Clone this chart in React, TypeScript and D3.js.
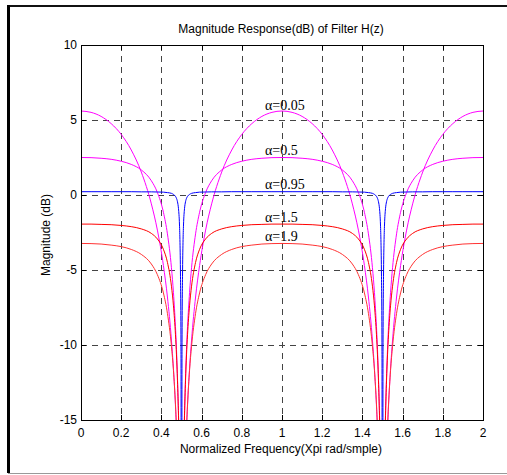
import React from "react";
import * as d3 from "d3";

// Normalized frequency (x pi rad/sample)
const freq = [
  0, 0.05, 0.1, 0.15, 0.2, 0.25, 0.3, 0.35, 0.38, 0.41, 0.43, 0.45, 0.46, 0.47, 0.475, 0.48, 0.485, 0.49, 0.4925, 0.495, 0.4975, 0.5,
  0.5025, 0.505, 0.5075, 0.51, 0.515, 0.52, 0.525, 0.53, 0.54, 0.55, 0.57, 0.59, 0.62, 0.65, 0.7, 0.75, 0.8, 0.85, 0.9, 0.95, 1.0,
  1.05, 1.1, 1.15, 1.2, 1.25, 1.3, 1.35, 1.38, 1.41, 1.43, 1.45, 1.46, 1.47, 1.475, 1.48, 1.485, 1.49, 1.4925, 1.495, 1.4975, 1.5,
  1.5025, 1.505, 1.5075, 1.51, 1.515, 1.52, 1.525, 1.53, 1.54, 1.55, 1.57, 1.59, 1.62, 1.65, 1.7, 1.75, 1.8, 1.85, 1.9, 1.95, 2.0,
];

// Magnitude (dB) for each alpha
const magA005 = [
  5.60, 5.51, 5.24, 4.76, 4.04, 3.00, 1.53, -0.59, -2.34, -4.70, -6.80, -9.67, -11.59, -14.07, -15.65, -17.58, -20.07, -23.59, -26.09, -29.61, -35.63, -60,
  -35.63, -29.61, -26.09, -23.59, -20.07, -17.58, -15.65, -14.07, -11.59, -9.67, -6.80, -4.70, -2.34, -0.59, 1.53, 3.00, 4.04, 4.76, 5.24, 5.51, 5.60,
  5.51, 5.24, 4.76, 4.04, 3.00, 1.53, -0.59, -2.34, -4.70, -6.80, -9.67, -11.59, -14.07, -15.65, -17.58, -20.07, -23.59, -26.09, -29.61, -35.63, -60,
  -35.63, -29.61, -26.09, -23.59, -20.07, -17.58, -15.65, -14.07, -11.59, -9.67, -6.80, -4.70, -2.34, -0.59, 1.53, 3.00, 4.04, 4.76, 5.24, 5.51, 5.60,
];
const magA05 = [
  2.50, 2.49, 2.45, 2.38, 2.25, 2.04, 1.67, 0.95, 0.17, -1.15, -2.59, -4.85, -6.51, -8.78, -10.27, -12.14, -14.57, -18.05, -20.53, -24.05, -30.06, -60,
  -30.06, -24.05, -20.53, -18.05, -14.57, -12.14, -10.27, -8.78, -6.51, -4.85, -2.59, -1.15, 0.17, 0.95, 1.67, 2.04, 2.25, 2.38, 2.45, 2.49, 2.50,
  2.49, 2.45, 2.38, 2.25, 2.04, 1.67, 0.95, 0.17, -1.15, -2.59, -4.85, -6.51, -8.78, -10.27, -12.14, -14.57, -18.05, -20.53, -24.05, -30.06, -60,
  -30.06, -24.05, -20.53, -18.05, -14.57, -12.14, -10.27, -8.78, -6.51, -4.85, -2.59, -1.15, 0.17, 0.95, 1.67, 2.04, 2.25, 2.38, 2.45, 2.49, 2.50,
];
const magA095 = [
  0.22, 0.22, 0.22, 0.22, 0.22, 0.22, 0.21, 0.21, 0.20, 0.19, 0.16, 0.11, 0.04, -0.09, -0.22, -0.45, -0.91, -2.00, -3.17, -5.42, -10.45, -60,
  -10.45, -5.42, -3.17, -2.00, -0.91, -0.45, -0.22, -0.09, 0.04, 0.11, 0.16, 0.19, 0.20, 0.21, 0.21, 0.22, 0.22, 0.22, 0.22, 0.22, 0.22,
  0.22, 0.22, 0.22, 0.22, 0.22, 0.21, 0.21, 0.20, 0.19, 0.16, 0.11, 0.04, -0.09, -0.22, -0.45, -0.91, -2.00, -3.17, -5.42, -10.45, -60,
  -10.45, -5.42, -3.17, -2.00, -0.91, -0.45, -0.22, -0.09, 0.04, 0.11, 0.16, 0.19, 0.20, 0.21, 0.21, 0.22, 0.22, 0.22, 0.22, 0.22, 0.22,
];
const magA15 = [
  -1.94, -1.94, -1.96, -1.98, -2.03, -2.11, -2.26, -2.56, -2.93, -3.62, -4.49, -6.08, -7.39, -9.32, -10.66, -12.39, -14.72, -18.12, -20.57, -24.06, -30.06, -60,
  -30.06, -24.06, -20.57, -18.12, -14.72, -12.39, -10.66, -9.32, -7.39, -6.08, -4.49, -3.62, -2.93, -2.56, -2.26, -2.11, -2.03, -1.98, -1.96, -1.94, -1.94,
  -1.94, -1.96, -1.98, -2.03, -2.11, -2.26, -2.56, -2.93, -3.62, -4.49, -6.08, -7.39, -9.32, -10.66, -12.39, -14.72, -18.12, -20.57, -24.06, -30.06, -60,
  -30.06, -24.06, -20.57, -18.12, -14.72, -12.39, -10.66, -9.32, -7.39, -6.08, -4.49, -3.62, -2.93, -2.56, -2.26, -2.11, -2.03, -1.98, -1.96, -1.94, -1.94,
];
const magA19 = [
  -3.23, -3.24, -3.27, -3.34, -3.44, -3.63, -3.96, -4.60, -5.31, -6.53, -7.89, -10.08, -11.70, -13.94, -15.42, -17.26, -19.69, -23.16, -25.64, -29.15, -35.17, -60,
  -35.17, -29.15, -25.64, -23.16, -19.69, -17.26, -15.42, -13.94, -11.70, -10.08, -7.89, -6.53, -5.31, -4.60, -3.96, -3.63, -3.44, -3.34, -3.27, -3.24, -3.23,
  -3.24, -3.27, -3.34, -3.44, -3.63, -3.96, -4.60, -5.31, -6.53, -7.89, -10.08, -11.70, -13.94, -15.42, -17.26, -19.69, -23.16, -25.64, -29.15, -35.17, -60,
  -35.17, -29.15, -25.64, -23.16, -19.69, -17.26, -15.42, -13.94, -11.70, -10.08, -7.89, -6.53, -5.31, -4.60, -3.96, -3.63, -3.44, -3.34, -3.27, -3.24, -3.23,
];

const seriesNames = ["α=0.05", "α=0.5", "α=0.95", "α=1.5", "α=1.9"];
const seriesValues = [magA005, magA05, magA095, magA15, magA19];
const seriesColors = ["#ff00ff", "#ff00ff", "#0000ff", "#ff0000", "#ff3333"];

// label anchor (freq, dB) for each series
const labelFreq = [0.915, 0.915, 0.915, 0.915, 0.915];
const labelDb = [5.67, 2.67, 0.4, -1.8, -3.07];

const xTicks = [0, 0.2, 0.4, 0.6, 0.8, 1, 1.2, 1.4, 1.6, 1.8, 2];
const xTickLabels = ["0", "0.2", "0.4", "0.6", "0.8", "1", "1.2", "1.4", "1.6", "1.8", "2"];
const yTicks = [10, 5, 0, -5, -10, -15];
const yTickLabels = ["10", "5", "0", "-5", "-10", "-15"];

const titleText = "Magnitude Response(dB) of Filter H(z)";
const xLabelText = "Normalized Frequency(Xpi rad/smple)";
const yLabelText = "Magnitude (dB)";

export default function App() {
  const W = 507;
  const H = 475;
  const left = 81, right = 483, top = 45, bottom = 420;
  const x = d3.scaleLinear().domain([0, 2]).range([left, right]);
  const y = d3.scaleLinear().domain([-15, 10]).range([bottom, top]);
  const line = d3
    .line<number>()
    .x((_, i) => x(freq[i]))
    .y((v) => y(v))
    .curve(d3.curveMonotoneX);
  const sans = "'Liberation Sans', Arial, sans-serif";
  const serif = "'Liberation Serif', 'Times New Roman', serif";
  const tick = 5;

  return (
    <svg
      width={W}
      height={H}
      style={{ position: "absolute", left: 0, top: 0, background: "#fff" }}
    >
      {/* outer frame */}
      <rect x={0} y={0} width={W} height={H} fill="#fff" />
      <line x1={7} y1={6} x2={W} y2={6} stroke="#111" strokeWidth={2} />
      <line x1={8.5} y1={5} x2={8.5} y2={473} stroke="#000" strokeWidth={3} />
      <line x1={8} y1={473.5} x2={W} y2={473.5} stroke="#999" strokeWidth={1} />

      <defs>
        <clipPath id="plotClip">
          <rect x={left} y={top} width={right - left} height={bottom - top} />
        </clipPath>
      </defs>

      {/* grid */}
      <g stroke="#444" strokeWidth={1} strokeDasharray="6,5" shapeRendering="crispEdges">
        {xTicks.slice(1, -1).map((t) => (
          <line key={"gx" + t} x1={Math.round(x(t)) + 0.5} x2={Math.round(x(t)) + 0.5} y1={top} y2={bottom} />
        ))}
        {yTicks.slice(1, -1).map((t) => (
          <line key={"gy" + t} x1={left} x2={right} y1={Math.round(y(t)) + 0.5} y2={Math.round(y(t)) + 0.5} />
        ))}
      </g>

      {/* curves */}
      <g clipPath="url(#plotClip)" fill="none" strokeWidth={1}>
        {seriesValues.map((vals, i) => (
          <path key={"s" + i} d={line(vals) || ""} stroke={seriesColors[i]} />
        ))}
      </g>

      {/* axes box and ticks */}
      <g stroke="#000" strokeWidth={1} shapeRendering="crispEdges" fill="none">
        <rect x={left + 0.5} y={top + 0.5} width={right - left} height={bottom - top} />
        {xTicks.slice(1, -1).map((t) => (
          <g key={"tx" + t}>
            <line x1={Math.round(x(t)) + 0.5} x2={Math.round(x(t)) + 0.5} y1={bottom} y2={bottom - tick} />
            <line x1={Math.round(x(t)) + 0.5} x2={Math.round(x(t)) + 0.5} y1={top} y2={top + tick} />
          </g>
        ))}
        {yTicks.slice(1, -1).map((t) => (
          <g key={"ty" + t}>
            <line x1={left} x2={left + tick} y1={Math.round(y(t)) + 0.5} y2={Math.round(y(t)) + 0.5} />
            <line x1={right} x2={right - tick} y1={Math.round(y(t)) + 0.5} y2={Math.round(y(t)) + 0.5} />
          </g>
        ))}
      </g>

      {/* tick labels */}
      <g fontFamily={sans} fontSize={12} fill="#000">
        {xTicks.map((t, i) => (
          <text key={"lx" + t} x={x(t)} y={bottom + 17} textAnchor="middle">
            {xTickLabels[i]}
          </text>
        ))}
        {yTicks.map((t, i) => (
          <text key={"ly" + t} x={left - 4} y={y(t) + 4} textAnchor="end">
            {yTickLabels[i]}
          </text>
        ))}
      </g>

      {/* titles */}
      <text x={281} y={33} textAnchor="middle" fontFamily={sans} fontSize={12}>
        {titleText}
      </text>
      <text x={281} y={453} textAnchor="middle" fontFamily={sans} fontSize={12}>
        {xLabelText}
      </text>
      <text
        transform="translate(50,235) rotate(-90)"
        textAnchor="middle"
        fontFamily={sans}
        fontSize={12}
      >
        {yLabelText}
      </text>

      {/* series labels */}
      <g fontFamily={serif} fontSize={14} fill="#000">
        {seriesNames.map((n, i) => (
          <text key={"n" + i} x={x(labelFreq[i])} y={y(labelDb[i])}>
            {n}
          </text>
        ))}
      </g>
    </svg>
  );
}
